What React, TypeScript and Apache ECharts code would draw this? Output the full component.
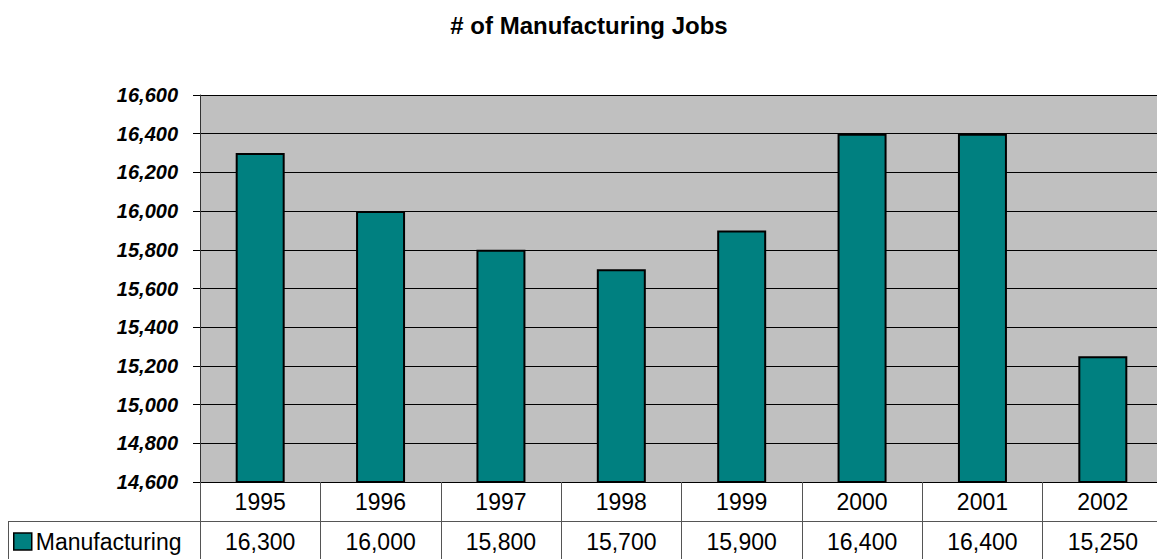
import React, { useEffect, useRef } from "react";
import * as echarts from "echarts";

const categories = ["1995", "1996", "1997", "1998", "1999", "2000", "2001", "2002"];
const manufacturing = [16300, 16000, 15800, 15700, 15900, 16400, 16400, 15250];
const seriesName = "Manufacturing";
const titleText = "# of Manufacturing Jobs";
const yMin = 14600;
const yMax = 16600;
const yStep = 200;

const fmt = (v: number) => v.toLocaleString("en-US");
const FONT = "'Liberation Sans', Arial, sans-serif";

export default function App() {
  const ref = useRef<HTMLDivElement>(null);
  useEffect(() => {
    if (!ref.current) return;
    const chart = echarts.init(ref.current, null, { renderer: "svg" });
    chart.setOption({
      animation: false,
      backgroundColor: "#ffffff",
      title: {
        text: titleText,
        left: 584,
        textAlign: "center",
        top: 8,
        textStyle: { fontFamily: FONT, fontWeight: "bold", fontSize: 24, color: "#000" },
      },
      legend: {
        data: [seriesName],
        left: 13,
        top: 530,
        padding: 0,
        icon: "rect",
        itemWidth: 18,
        itemHeight: 17,
        itemStyle: { borderColor: "#000", borderWidth: 1.5 },
        textStyle: { fontFamily: FONT, fontSize: 23, color: "#000", padding: [0, 0, 0, -1] },
      },
      grid: { left: 200, top: 95, width: 963, height: 387, backgroundColor: "#c0c0c0", show: true, borderWidth: 0 },
      xAxis: [
        {
          type: "category",
          data: categories,
          position: "bottom",
          axisLine: { show: true, lineStyle: { color: "#000", width: 1 } },
          axisTick: { show: true, length: 80, lineStyle: { color: "#555", width: 1 } },
          axisLabel: { fontFamily: FONT, fontSize: 23, color: "#000", margin: 8, lineHeight: 23 },
        },
        {
          type: "category",
          data: manufacturing.map(fmt),
          position: "bottom",
          offset: 40,
          axisLine: { show: false },
          axisTick: { show: false },
          axisLabel: { fontFamily: FONT, fontSize: 23, color: "#000", margin: 8, lineHeight: 23 },
        },
      ],
      yAxis: {
        type: "value",
        min: yMin,
        max: yMax,
        interval: yStep,
        axisLine: { show: true, lineStyle: { color: "#333", width: 1 } },
        axisTick: { show: true, length: 7, lineStyle: { color: "#000" } },
        splitLine: { show: true, lineStyle: { color: "#000", width: 1 } },
        axisLabel: {
          formatter: (v: number) => fmt(v),
          fontFamily: FONT,
          fontSize: 20,
          fontWeight: "bold",
          fontStyle: "italic",
          color: "#000",
          margin: 22,
        },
      },
      series: [
        {
          name: seriesName,
          type: "bar",
          data: manufacturing,
          barWidth: 49,
          itemStyle: { color: "#008080", borderColor: "#000", borderWidth: 2 },
        },
      ],
      graphic: [
        { type: "line", shape: { x1: 8, y1: 521.5, x2: 1170, y2: 521.5 }, style: { stroke: "#555", lineWidth: 1 } },
        { type: "line", shape: { x1: 8.5, y1: 521.5, x2: 8.5, y2: 559 }, style: { stroke: "#555", lineWidth: 1 } },
      ],
    });
    return () => chart.dispose();
  }, []);
  return (
    <div style={{ position: "absolute", left: 0, top: 0, width: 1157, height: 559, overflow: "hidden" }}>
      <div ref={ref} style={{ position: "absolute", left: 0, top: 0, width: 1170, height: 559 }} />
    </div>
  );
}
